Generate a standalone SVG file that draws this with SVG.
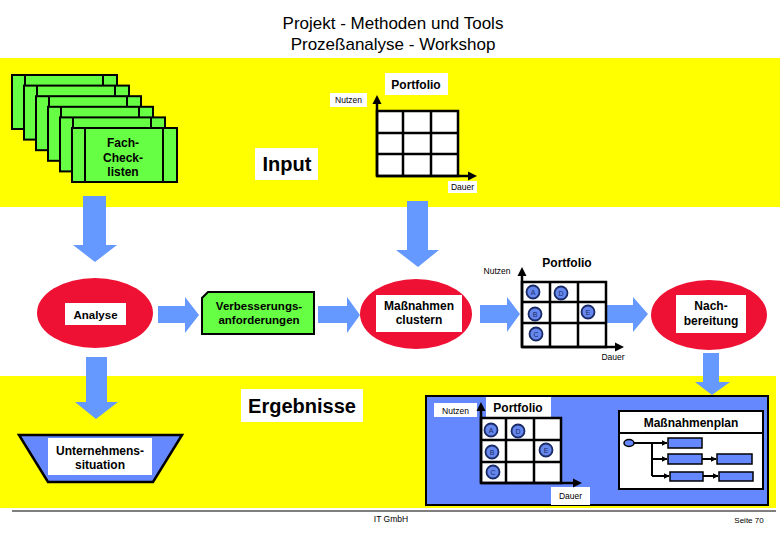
<svg xmlns="http://www.w3.org/2000/svg" width="780" height="540" viewBox="0 0 780 540">
<defs>
<style>
.t{font-family:"Liberation Sans",Arial,sans-serif;fill:#000;text-anchor:middle}
.b{font-weight:bold}
.card{fill:#66ff44;stroke:#000;stroke-width:2}
.cl{stroke:#000;stroke-width:2}
.wbox{fill:#fff;stroke:none}
.red{fill:#ee1133;stroke:none}
.blk{fill:#6699ff;stroke:none}
.grid{fill:#fff;stroke:#000;stroke-width:2.5}
.gl{stroke:#000;stroke-width:2.5;fill:none}
.dot{fill:#6688ee;stroke:#1a2a66;stroke-width:1.8}
.dl{font-family:"Liberation Sans",Arial,sans-serif;font-size:7px;fill:#1a2a66;text-anchor:middle}
.pb{fill:#6688ff;stroke:#000;stroke-width:1.5}
.pl{stroke:#000;stroke-width:2;fill:none}
</style>
<marker id="ah" viewBox="0 0 10 10" refX="9" refY="5" markerWidth="3" markerHeight="3" orient="auto" markerUnits="strokeWidth">
<path d="M0,0 L10,5 L0,10 z" fill="#000"/>
</marker>
</defs>
<rect width="780" height="540" fill="#fff"/>
<g id="title">
<text class="t" x="393" y="29" font-size="17">Projekt - Methoden und Tools</text>
<text class="t" x="393" y="50" font-size="17">Prozeßanalyse - Workshop</text>
</g>
<g id="bands">
<rect x="0" y="58" width="780" height="149" fill="#ffff00"/>
<rect x="0" y="376" width="776" height="132" fill="#ffff00"/>
</g>
<g id="connectors">
<polygon class="blk" points="83,196 106,196 106,245 117,245 95,262 73,245 83,245"/>
<polygon class="blk" points="407,201 428,201 428,250 439,250 418,267 396,250 407,250"/>
<polygon class="blk" points="158,306 185,306 185,297 199,315 185,333 185,323 158,323"/>
<polygon class="blk" points="318,306 347,306 347,297 360,315 347,333 347,323 318,323"/>
<polygon class="blk" points="480,305 507,305 507,297 520,314 507,332 507,323 480,323"/>
<polygon class="blk" points="607,305 633,305 633,297 648,314 633,332 633,323 607,323"/>
<polygon class="blk" points="703,353 719,353 719,382 730,382 712,395 695,382 703,382"/>
<polygon class="blk" points="86,357 107,357 107,402 118,402 96,419 75,402 86,402"/>
</g>
<g id="checklisten">
<rect class="card" x="12" y="75" width="105" height="54"/><line class="cl" x1="25" y1="75" x2="25" y2="129"/><line class="cl" x1="103" y1="75" x2="103" y2="129"/>
<rect class="card" x="24" y="85.6" width="105" height="54"/><line class="cl" x1="37" y1="85.6" x2="37" y2="139.6"/><line class="cl" x1="115" y1="85.6" x2="115" y2="139.6"/>
<rect class="card" x="36" y="96.2" width="105" height="54"/><line class="cl" x1="49" y1="96.2" x2="49" y2="150.2"/><line class="cl" x1="127" y1="96.2" x2="127" y2="150.2"/>
<rect class="card" x="48" y="106.8" width="105" height="54"/><line class="cl" x1="61" y1="106.8" x2="61" y2="160.8"/><line class="cl" x1="139" y1="106.8" x2="139" y2="160.8"/>
<rect class="card" x="60" y="117.4" width="105" height="54"/><line class="cl" x1="73" y1="117.4" x2="73" y2="171.4"/><line class="cl" x1="151" y1="117.4" x2="151" y2="171.4"/>
<rect class="card" x="72" y="128" width="105" height="54"/><line class="cl" x1="85" y1="128" x2="85" y2="182"/><line class="cl" x1="163" y1="128" x2="163" y2="182"/>
<text class="t b" x="123" y="147" font-size="12">Fach-</text>
<text class="t b" x="123" y="161.5" font-size="12">Check-</text>
<text class="t b" x="123" y="176" font-size="12">listen</text>
</g>
<g id="input">
<rect class="wbox" x="255" y="148" width="63" height="32"/>
<text class="t b" x="287" y="171" font-size="20">Input</text>
</g>
<g id="portfolio-top">
<rect class="wbox" x="385" y="73" width="63" height="22"/>
<text class="t b" x="416" y="88.5" font-size="12">Portfolio</text>
<rect class="wbox" x="330" y="93" width="37" height="14"/>
<text class="t" x="348.5" y="103" font-size="8.5">Nutzen</text>
<rect class="wbox" x="448" y="181" width="29" height="12"/>
<text class="t" x="462.5" y="190" font-size="8.5">Dauer</text>
<rect class="grid" x="377" y="111" width="81" height="65"/>
<path class="gl" d="M403,111V176M431,111V176M377,133H458M377,154H458"/>
<path class="gl" d="M377,176V102M377,176H469"/>
<polygon points="377,95 372.5,104 381.5,104" fill="#000"/>
<polygon points="477,176 468,171.5 468,180.5" fill="#000"/>
</g>
<g id="analyse">
<ellipse class="red" cx="95" cy="313" rx="58" ry="35"/>
<rect class="wbox" x="65" y="303" width="61" height="22"/>
<text class="t b" x="95.5" y="318.5" font-size="11.5">Analyse</text>
</g>
<g id="verbesserungsanforderungen">
<polygon points="208,292 314,292 314,334 202,334 202,298" fill="#66ff44" stroke="#000" stroke-width="2"/>
<text class="t b" x="259" y="310" font-size="11.5">Verbesserungs-</text>
<text class="t b" x="259" y="324" font-size="11.5">anforderungen</text>
</g>
<g id="massnahmen-clustern">
<ellipse class="red" cx="416" cy="314" rx="56" ry="35"/>
<rect class="wbox" x="376" y="295" width="86" height="37"/>
<text class="t b" x="419" y="310" font-size="12">Maßnahmen</text>
<text class="t b" x="419" y="324" font-size="12">clustern</text>
</g>
<g id="portfolio-mid">
<text class="t b" x="567" y="267" font-size="12">Portfolio</text>
<text class="t" x="497" y="273.5" font-size="8.5">Nutzen</text>
<text class="t" x="613" y="360" font-size="8.5">Dauer</text>
<rect class="grid" x="522" y="282" width="84" height="65"/>
<path class="gl" d="M550,282V347M578,282V347M522,302H606M522,323H606"/>
<path class="gl" d="M522,347V274M522,347H616"/>
<polygon points="522,267 517.5,276 526.5,276" fill="#000"/>
<polygon points="624,347 615,342.5 615,351.5" fill="#000"/>
<circle class="dot" cx="533" cy="292" r="6.5"/><text class="dl" x="533" y="294.5">A</text>
<circle class="dot" cx="561" cy="293" r="6.5"/><text class="dl" x="561" y="295.5">D</text>
<circle class="dot" cx="535" cy="314" r="6.5"/><text class="dl" x="535" y="316.5">B</text>
<circle class="dot" cx="588" cy="312" r="6.5"/><text class="dl" x="588" y="314.5">E</text>
<circle class="dot" cx="536" cy="334" r="6.5"/><text class="dl" x="536" y="336.5">C</text>
</g>
<g id="nachbereitung">
<ellipse class="red" cx="709" cy="315" rx="58" ry="35"/>
<rect class="wbox" x="676" y="295" width="70" height="38"/>
<text class="t b" x="711" y="310" font-size="12">Nach-</text>
<text class="t b" x="711" y="325" font-size="12">bereitung</text>
</g>
<g id="ergebnisse">
<rect class="wbox" x="241" y="389" width="122" height="33"/>
<text class="t b" x="302" y="413" font-size="20">Ergebnisse</text>
</g>
<g id="unternehmenssituation">
<polygon points="19,435 182,435 153,482 48,482" fill="#6688ff" stroke="#000" stroke-width="2.5"/>
<rect class="wbox" x="48" y="438" width="104" height="37"/>
<text class="t b" x="100" y="455" font-size="12">Unternehmens-</text>
<text class="t b" x="100" y="469" font-size="12">situation</text>
</g>
<g id="ergebnis-box">
<rect x="426" y="396" width="342" height="109" fill="#6688ff" stroke="#000" stroke-width="2"/>
</g>
<g id="portfolio-bottom">
<rect class="wbox" x="434" y="403" width="43" height="14"/>
<text class="t" x="455.5" y="413.5" font-size="8.5">Nutzen</text>
<rect class="wbox" x="486" y="397" width="65" height="21"/>
<text class="t b" x="518" y="412" font-size="12">Portfolio</text>
<rect class="wbox" x="551" y="487" width="39" height="18"/>
<text class="t" x="570.5" y="499" font-size="8.5">Dauer</text>
<rect class="grid" x="481" y="418" width="80" height="65"/>
<path class="gl" d="M506,418V483M534,418V483M481,440H561M481,462H561"/>
<path class="gl" d="M481,483V409M481,483H574"/>
<polygon points="481,402 476.5,411 485.5,411" fill="#000"/>
<polygon points="582,483 573,478.5 573,487.5" fill="#000"/>
<circle class="dot" cx="491" cy="430" r="6.5"/><text class="dl" x="491" y="432.5">A</text>
<circle class="dot" cx="518" cy="431" r="6.5"/><text class="dl" x="518" y="433.5">D</text>
<circle class="dot" cx="492" cy="452" r="6.5"/><text class="dl" x="492" y="454.5">B</text>
<circle class="dot" cx="546" cy="450" r="6.5"/><text class="dl" x="546" y="452.5">E</text>
<circle class="dot" cx="493" cy="472" r="6.5"/><text class="dl" x="493" y="474.5">C</text>
</g>
<g id="massnahmenplan">
<rect x="619" y="411" width="144" height="78" fill="#fff" stroke="#000" stroke-width="2"/>
<line x1="619" y1="433" x2="763" y2="433" stroke="#000" stroke-width="2"/>
<text class="t b" x="691" y="427" font-size="12">Maßnahmenplan</text>
<ellipse cx="629" cy="443" rx="5" ry="3.5" fill="#6688ff" stroke="#000" stroke-width="1.5"/>
<path class="pl" d="M652,443V476"/>
<line class="pl" x1="634" y1="443" x2="667" y2="443" marker-end="url(#ah)"/>
<line class="pl" x1="652" y1="459" x2="667" y2="459" marker-end="url(#ah)"/>
<line class="pl" x1="652" y1="476" x2="669" y2="476" marker-end="url(#ah)"/>
<line class="pl" x1="702" y1="459" x2="716" y2="459" marker-end="url(#ah)"/>
<line class="pl" x1="703" y1="476" x2="718" y2="476" marker-end="url(#ah)"/>
<rect class="pb" x="668" y="438" width="34" height="10"/>
<rect class="pb" x="668" y="454" width="34" height="10"/>
<rect class="pb" x="717" y="454" width="35" height="10"/>
<rect class="pb" x="670" y="472" width="33" height="9"/>
<rect class="pb" x="719" y="472" width="34" height="9"/>
</g>
<g id="footer">
<line x1="12" y1="511" x2="776" y2="511" stroke="#000" stroke-width="1.2"/>
<text class="t" x="391" y="522" font-size="8.5">IT GmbH</text>
<text class="t" x="749" y="523" font-size="8">Seite 70</text>
</g>
</svg>
